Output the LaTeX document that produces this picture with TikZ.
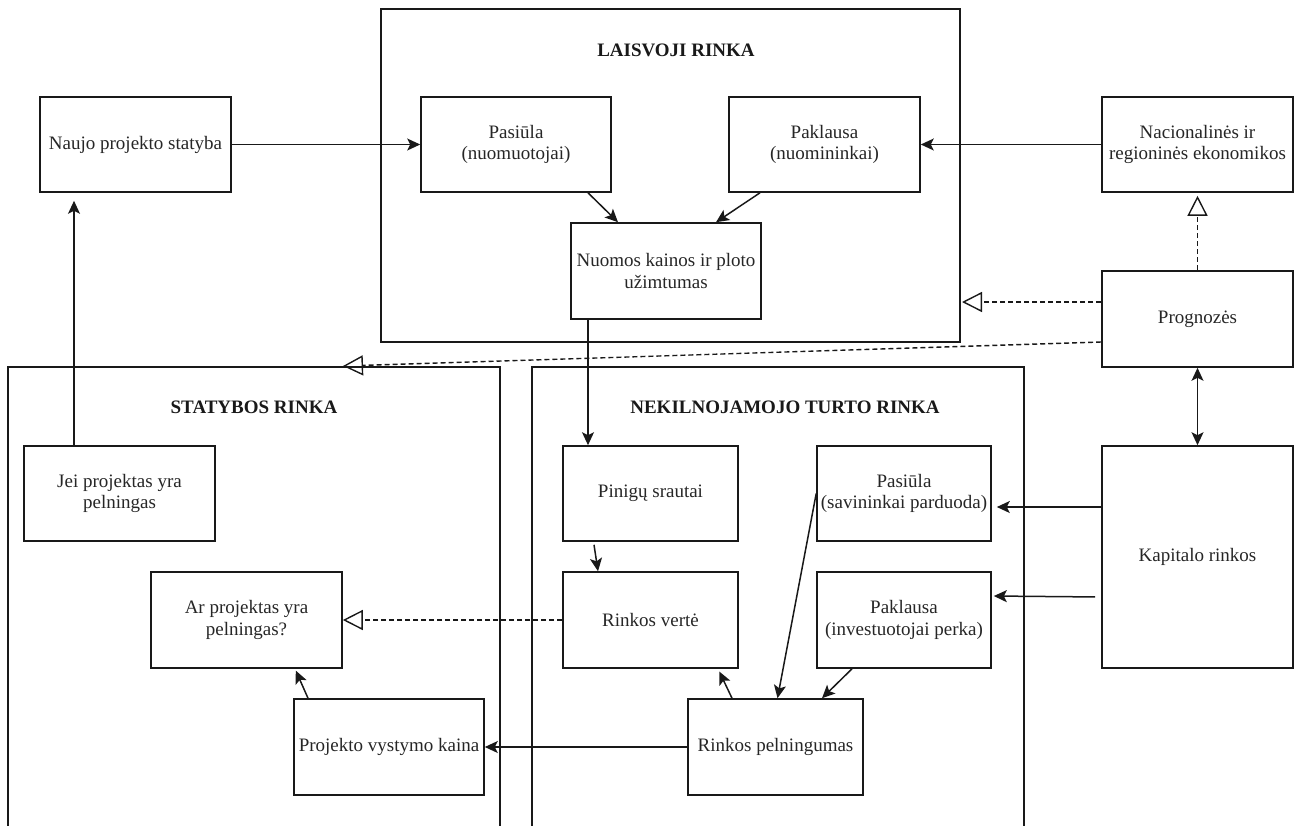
\documentclass[tikz,border=0pt]{standalone}
\usepackage{fontspec}
\setmainfont{Liberation Serif}
\usetikzlibrary{arrows.meta,calc}
\begin{document}
\begin{tikzpicture}[x=1pt,y=-1pt,
  box/.style={draw=black!90, line width=1.6pt, align=center, inner sep=2pt,
    font=\fontsize{19}{21.5}\selectfont, text=black!85},
  ttl/.style={font=\fontsize{19}{21.5}\selectfont\bfseries, text=black!90, inner sep=0pt},
  cont/.style={draw=black!90, line width=1.6pt},
  arr/.style={draw=black!90, line width=1.5pt, -{Stealth[length=13pt,width=12pt,inset=3pt]}},
  darr/.style={draw=black!90, line width=1.5pt, {Stealth[length=13pt,width=12pt,inset=3pt]}-{Stealth[length=13pt,width=12pt,inset=3pt]}},
  inh/.style={draw=black!90, line width=1.4pt, dash pattern=on 5pt off 3pt,
    -{Triangle[open,length=20pt,width=20pt,line width=1.4pt]}}
]
\useasboundingbox (0,0) rectangle (1295,825);

% containers
\node[cont, minimum width=579pt, minimum height=333pt, inner sep=0pt] (laisv) at (670.5,175.5) {};
\draw[cont] (8,826) -- (8,367) -- (500,367) -- (500,826);
\draw[cont] (532,826) -- (532,367) -- (1024,367) -- (1024,826);
\coordinate (statTip) at (343,366);
\coordinate (laisvTip) at (962,302);

\node[ttl] (tl) at (676,50) {LAISVOJI RINKA};
\node[ttl] (ts) at (254,407) {STATYBOS RINKA};
\node[ttl] (tn) at (785,407) {NEKILNOJAMOJO TURTO RINKA};

% boxes
\node[box, minimum width=191pt, minimum height=95pt] (naujo) at (135.5,144.5) {Naujo projekto statyba};
\node[box, minimum width=190pt, minimum height=95pt] (pas1) at (516,144.5) {Pasiūla\\(nuomuotojai)};
\node[box, minimum width=191pt, minimum height=95pt] (pak1) at (824.5,144.5) {Paklausa\\(nuomininkai)};
\node[box, minimum width=191pt, minimum height=95pt] (nac) at (1197.5,144.5) {Nacionalinės ir\\regioninės ekonomikos};
\node[box, minimum width=190pt, minimum height=96pt] (nuomos) at (666,271) {Nuomos kainos ir ploto\\užimtumas};
\node[box, minimum width=191pt, minimum height=96pt] (prog) at (1197.5,319) {Prognozės};
\node[box, minimum width=191pt, minimum height=95pt] (jei) at (119.5,493.5) {Jei projektas yra\\pelningas};
\node[box, minimum width=175pt, minimum height=95pt] (pin) at (650.5,493.5) {Pinigų srautai};
\node[box, minimum width=174pt, minimum height=95pt] (pas2) at (904,493.5) {Pasiūla\\(savininkai parduoda)};
\node[box, minimum width=191pt, minimum height=222pt] (kap) at (1197.5,557) {Kapitalo rinkos};
\node[box, minimum width=191pt, minimum height=96pt] (ar) at (246.5,620) {Ar projektas yra\\pelningas?};
\node[box, minimum width=175pt, minimum height=96pt] (rv) at (650.5,620) {Rinkos vertė};
\node[box, minimum width=174pt, minimum height=96pt] (pak2) at (904,620) {Paklausa\\(investuotojai perka)};
\node[box, minimum width=190pt, minimum height=96pt] (pvk) at (389,747) {Projekto vystymo kaina};
\node[box, minimum width=175pt, minimum height=96pt] (rp) at (775.5,747) {Rinkos pelningumas};

% connectors
\draw[arr] (naujo.east) -- (pas1.west);
\draw[arr] (nac.west) -- (pak1.east);
\draw[arr] ([xshift=72pt]pas1.south) -- ([xshift=-48pt]nuomos.north);
\draw[arr] ([xshift=-64.5pt]pak1.south) -- ([xshift=50pt]nuomos.north);
\draw[arr] ([xshift=-78pt]nuomos.south) -- ([xshift=-78pt]nuomos.south |- pin.north);
\draw[arr] ([xshift=-56.5pt,yshift=-3pt]pin.south) -- ([xshift=-52.5pt]rv.north);
\draw[inh] (rv.west) -- (ar.east);
\draw[arr, shorten >=2pt] ([xshift=-81pt]pvk.north) -- ([xshift=48.5pt]ar.south);
\draw[arr] (rp.west) -- (pvk.east);
\draw[arr] (pas2.west) -- ([xshift=2pt]rp.north);
\draw[arr] ([xshift=-52pt]pak2.south) -- ([xshift=46.5pt]rp.north);
\draw[arr, shorten >=3pt] ([xshift=-43.5pt]rp.north) -- ([xshift=67.5pt]rv.south);
\draw[arr, shorten >=5pt] ([yshift=50pt]kap.west) -- ([yshift=50pt]kap.west -| pas2.east);
\draw[arr, shorten <=6pt, shorten >=2pt] ([yshift=-40pt]kap.west) -- ([yshift=24pt]pak2.east);
\draw[darr] (prog.south) -- (kap.north);
\draw[inh, shorten >=3pt] (prog.north) -- (nac.south);
\draw[inh] ([yshift=17pt]prog.west) -- (laisvTip);
\draw[inh] ([yshift=-23pt]prog.west) -- (statTip);
\draw[arr, shorten >=8pt] ([xshift=-45.5pt]jei.north) -- ([xshift=-61.5pt]naujo.south);
\end{tikzpicture}
\end{document}
